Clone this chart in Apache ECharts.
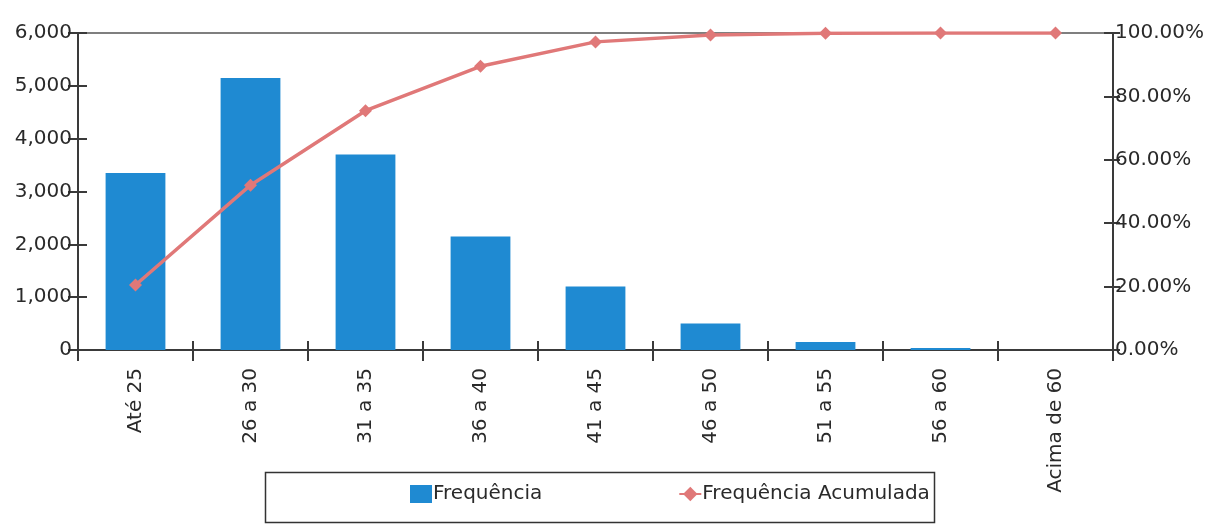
<!DOCTYPE html>
<html>
<head>
<meta charset="utf-8">
<script src="https://cdn.jsdelivr.net/npm/echarts@6/dist/echarts.min.js"></script>
<style>
html,body{margin:0;padding:0;background:#fff;}
#c{width:1221px;height:524px;}
</style>
</head>
<body>
<div id="c"></div>
<script>
const categories = ['Até 25','26 a 30','31 a 35','36 a 40','41 a 45','46 a 50','51 a 55','56 a 60','Acima de 60'];
const frequencia = [3350, 5150, 3700, 2150, 1200, 500, 150, 40, 0];
const acumulada = [20.5, 52, 75.5, 89.5, 97.2, 99.4, 99.9, 100, 100];
const leftTicks = [0, 1000, 2000, 3000, 4000, 5000, 6000];
const rightTicks = [0, 20, 40, 60, 80, 100];

const font = 'DejaVu Sans, Liberation Sans, sans-serif';
const axisCol = '#3a3a3a';
const txt = '#2a2a2a';
const fs = 20;
const chart = echarts.init(document.getElementById('c'));

function yInner(pos, min, max, interval) {
  return {
    type: 'value', min: min, max: max, interval: interval, position: pos,
    splitLine: { show: false },
    axisLine: { show: false },
    axisLabel: { show: false },
    axisTick: { show: true, inside: true, length: 9, lineStyle: { color: axisCol, width: 2 } }
  };
}

chart.setOption({
  backgroundColor: '#fff',
  animation: false,
  grid: { left: 78, right: 108, top: 33, bottom: 174, show: true, borderColor: '#555', borderWidth: 1.5 },
  legend: {
    left: 405, top: 479, itemGap: 136,
    itemWidth: 22, itemHeight: 18,
    textStyle: { fontFamily: font, fontSize: fs, color: txt, padding: [0,0,0,-4] },
    data: [
      { name: 'Frequência', icon: 'rect' },
      { name: 'Frequência Acumulada' }
    ]
  },
  graphic: [{
    type: 'rect', left: 263, top: 470,
    shape: { width: 669, height: 50 },
    style: { fill: 'none', stroke: '#333', lineWidth: 1.5 }
  }],
  xAxis: [{
    type: 'category', data: categories, boundaryGap: true, position: 'bottom',
    axisLine: { lineStyle: { color: axisCol, width: 2 } },
    axisTick: { show: true, length: 11, lineStyle: { color: axisCol, width: 2 } },
    axisLabel: { rotate: 90, margin: 18, fontFamily: font, fontSize: fs, color: txt }
  }, {
    type: 'category', data: categories, boundaryGap: true, position: 'bottom',
    axisLine: { show: false },
    axisTick: { show: true, inside: true, length: 9, lineStyle: { color: axisCol, width: 2 } },
    axisLabel: { show: false }
  }],
  yAxis: [{
    type: 'value', min: 0, max: 6000, interval: 1000, position: 'left',
    splitLine: { show: false },
    axisLine: { show: true, lineStyle: { color: axisCol, width: 2 } },
    axisTick: { show: true, length: 10, lineStyle: { color: axisCol, width: 2 } },
    axisLabel: { margin: 6, fontFamily: font, fontSize: fs, color: txt,
      formatter: v => v === 0 ? '0' : v.toLocaleString('en-US') }
  }, {
    type: 'value', min: 0, max: 100, interval: 20, position: 'right',
    splitLine: { show: false },
    axisLine: { show: true, lineStyle: { color: axisCol, width: 2 } },
    axisTick: { show: true, length: 7, lineStyle: { color: axisCol, width: 2 } },
    axisLabel: { margin: 2, fontFamily: font, fontSize: fs, color: txt,
      formatter: v => v.toFixed(2) + '%' }
  },
  yInner('left', 0, 6000, 1000),
  yInner('right', 0, 100, 20)
  ],
  series: [{
    name: 'Frequência', type: 'bar', data: frequencia, yAxisIndex: 0,
    barWidth: '52%',
    itemStyle: { color: '#1f8ad2' }
  }, {
    name: 'Frequência Acumulada', type: 'line', data: acumulada, yAxisIndex: 1,
    symbol: 'diamond', symbolSize: 13,
    lineStyle: { color: '#e07878', width: 3.5 },
    itemStyle: { color: '#e07878' }
  }]
});
</script>
</body>
</html>
